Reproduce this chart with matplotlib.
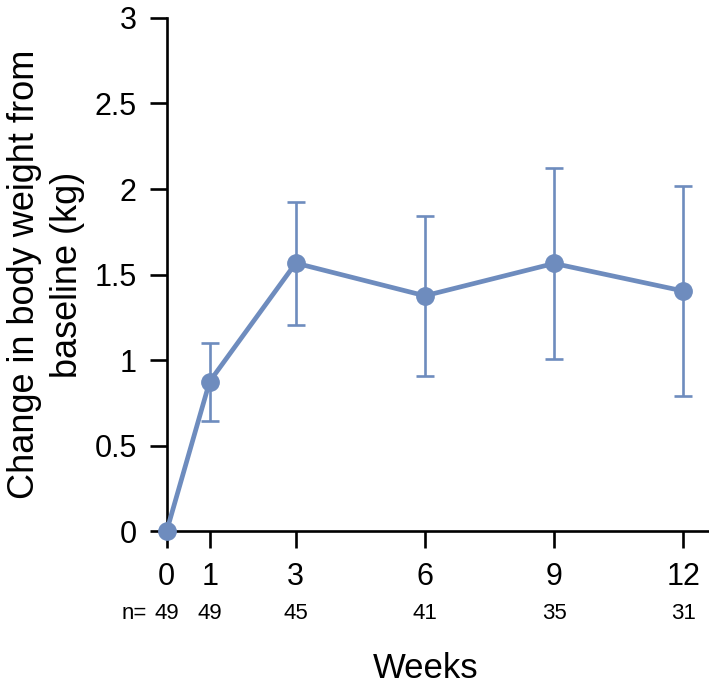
import matplotlib
matplotlib.use("Agg")
import matplotlib.pyplot as plt
import matplotlib.transforms as mtransforms

plt.rcParams['font.family'] = ['Liberation Sans', 'DejaVu Sans']

# data
weeks = [0, 1, 3, 6, 9, 12]
mean_change = [0.0, 0.875, 1.567, 1.376, 1.565, 1.404]
upper = [0.0, 1.10, 1.925, 1.845, 2.125, 2.02]
lower = [0.0, 0.645, 1.205, 0.906, 1.006, 0.791]
n_patients = [49, 49, 45, 41, 35, 31]
y_ticks = [0, 0.5, 1, 1.5, 2, 2.5, 3]
y_tick_labels = ["0", "0.5", "1", "1.5", "2", "2.5", "3"]

color = "#6E8CBE"

fig = plt.figure(figsize=(7.09, 6.89), dpi=100)
ax = fig.add_axes([0.235, 0.229, 0.765, 0.745])

err_lo = [m - l for m, l in zip(mean_change, lower)]
err_hi = [u - m for m, u in zip(mean_change, upper)]
# error bars only where there is spread
keep = [i for i in range(len(weeks)) if err_lo[i] > 0 or err_hi[i] > 0]
ax.errorbar([weeks[i] for i in keep], [mean_change[i] for i in keep],
            yerr=[[err_lo[i] for i in keep], [err_hi[i] for i in keep]],
            fmt='none', ecolor=color, elinewidth=1.9, capsize=6.5,
            capthick=1.9, zorder=2)
ax.plot(weeks, mean_change, color=color, lw=3.4, marker='o', ms=12.5,
        zorder=3, clip_on=False)

ax.set_xlim(0, 12.6)
ax.set_ylim(0, 3)
ax.set_xticks(weeks)
ax.set_xticklabels([str(w) for w in weeks], fontsize=22)
ax.set_yticks(y_ticks)
ax.set_yticklabels(y_tick_labels, fontsize=22)

for side in ['top', 'right']:
    ax.spines[side].set_visible(False)
for side in ['left', 'bottom']:
    ax.spines[side].set_linewidth(1.9)
ax.tick_params(axis='both', direction='out', length=12.5, width=1.9)
ax.tick_params(axis='x', pad=10)
ax.tick_params(axis='y', pad=9)

ax.set_ylabel("Change in body weight from\nbaseline (kg)", fontsize=26,
              linespacing=1.3, labelpad=7)
ax.set_xlabel("Weeks", fontsize=25)
ax.xaxis.set_label_coords(0.477, -0.236)

trans = mtransforms.blended_transform_factory(ax.transData, ax.transAxes)
for w, n in zip(weeks, n_patients):
    ax.text(w, -0.16, str(n), transform=trans, ha='center', va='center',
            fontsize=16)
ax.text(-0.45, -0.16, "n=", transform=trans, ha='right', va='center',
        fontsize=16)

fig.savefig("out.png", dpi=100)
